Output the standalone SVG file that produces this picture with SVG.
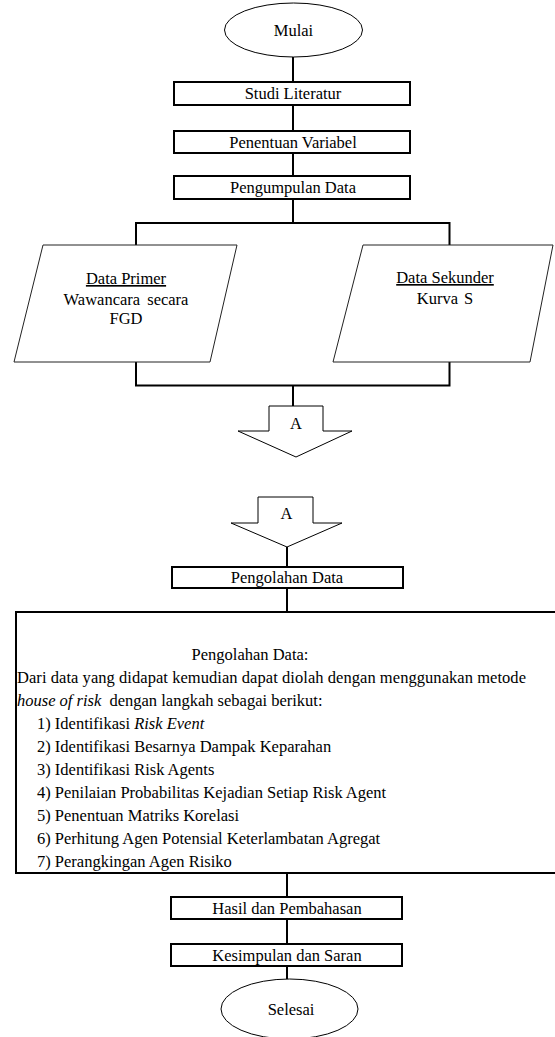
<svg xmlns="http://www.w3.org/2000/svg" width="555" height="1037" viewBox="0 0 555 1037">
<style>
text{font-family:'Liberation Serif','Times New Roman',serif;font-size:16.5px;fill:#000}
.c{text-anchor:middle}
.box{fill:#fff;stroke:#000;stroke-width:2}
.thin{fill:#fff;stroke:#000;stroke-width:1}
.para{fill:#fff;stroke:#222;stroke-width:1}
.ln{fill:none;stroke:#000;stroke-width:2}
.it{font-style:italic}
</style>
<rect width="555" height="1037" fill="#fff"/>
<g id="connectors">
<line class="ln" x1="293" y1="57" x2="293" y2="82"/>
<line class="ln" x1="293" y1="105" x2="293" y2="131"/>
<line class="ln" x1="293" y1="153" x2="293" y2="176"/>
<line class="ln" x1="293" y1="199" x2="293" y2="223"/>
<polyline class="ln" points="136,245 136,223 449.5,223 449.5,245"/>
<polyline class="ln" points="136,362 136,385.5 449.5,385.5 449.5,362"/>
<line class="ln" x1="293" y1="385.5" x2="293" y2="406"/>
<line class="ln" x1="287" y1="547" x2="287" y2="567"/>
<line class="ln" x1="287" y1="588" x2="287" y2="612"/>
<line class="ln" x1="287" y1="873" x2="287" y2="897"/>
<line class="ln" x1="287" y1="919" x2="287" y2="944"/>
<line class="ln" x1="287" y1="966" x2="287" y2="979"/>
</g>
<g id="mulai">
<ellipse class="thin" cx="293.5" cy="30" rx="69" ry="27"/>
<text class="c" x="293.5" y="36">Mulai</text>
</g>
<g id="studi">
<rect class="box" x="174" y="82" width="236" height="23"/>
<text class="c" x="293" y="99">Studi Literatur</text>
</g>
<g id="variabel">
<rect class="box" x="174" y="131" width="236" height="22"/>
<text class="c" x="293" y="147.5">Penentuan Variabel</text>
</g>
<g id="pengumpulan">
<rect class="box" x="174" y="176" width="236" height="23"/>
<text class="c" x="293" y="193">Pengumpulan Data</text>
</g>
<g id="primer">
<polygon class="para" points="43,245 237,245 210,362 14,362"/>
<text class="c" x="126" y="284" text-decoration="underline">Data Primer</text>
<text class="c" x="126" y="305">Wawancara <tspan dx="3">secara</tspan></text>
<text class="c" x="126" y="324">FGD</text>
</g>
<g id="sekunder">
<polygon class="para" points="363,245 553,245 530,362 333,362"/>
<text class="c" x="445" y="283" text-decoration="underline">Data Sekunder</text>
<text class="c" x="445" y="304">Kurva <tspan dx="2">S</tspan></text>
</g>
<g id="offpage1">
<polygon class="thin" points="269,406 323,406 323,431 352,431 296,457 238,431 269,431"/>
<text class="c" x="296" y="428.5">A</text>
</g>
<g id="offpage2">
<polygon class="thin" points="258,497 313,497 313,523 342,523 287,547 231,523 258,523"/>
<text class="c" x="286.5" y="518.5">A</text>
</g>
<g id="pengolahan">
<rect class="box" x="172" y="567" width="231" height="21"/>
<text class="c" x="287" y="583">Pengolahan Data</text>
</g>
<g id="detail">
<rect class="box" x="16" y="612" width="545" height="261" stroke-width="2.5"/>
<text class="c" x="250" y="660">Pengolahan Data:</text>
<text x="17" y="683" textLength="509">Dari data yang didapat kemudian dapat diolah dengan menggunakan metode</text>
<text x="17" y="706"><tspan class="it">house of risk</tspan><tspan dx="4"> dengan langkah sebagai berikut:</tspan></text>
<text x="37" y="729">1) Identifikasi <tspan class="it">Risk Event</tspan></text>
<text x="37" y="752">2) Identifikasi Besarnya Dampak Keparahan</text>
<text x="37" y="775">3) Identifikasi Risk Agents</text>
<text x="37" y="798">4) Penilaian Probabilitas Kejadian Setiap Risk Agent</text>
<text x="37" y="821">5) Penentuan Matriks Korelasi</text>
<text x="37" y="844">6) Perhitung Agen Potensial Keterlambatan Agregat</text>
<text x="37" y="867">7) Perangkingan Agen Risiko</text>
</g>
<g id="hasil">
<rect class="box" x="171" y="897" width="231" height="22"/>
<text class="c" x="287" y="913.5">Hasil dan Pembahasan</text>
</g>
<g id="kesimpulan">
<rect class="box" x="171" y="944" width="231" height="22"/>
<text class="c" x="287" y="960.5">Kesimpulan dan Saran</text>
</g>
<g id="selesai">
<ellipse class="thin" cx="289.5" cy="1009" rx="68.5" ry="30"/>
<text class="c" x="291" y="1015">Selesai</text>
</g>
</svg>
